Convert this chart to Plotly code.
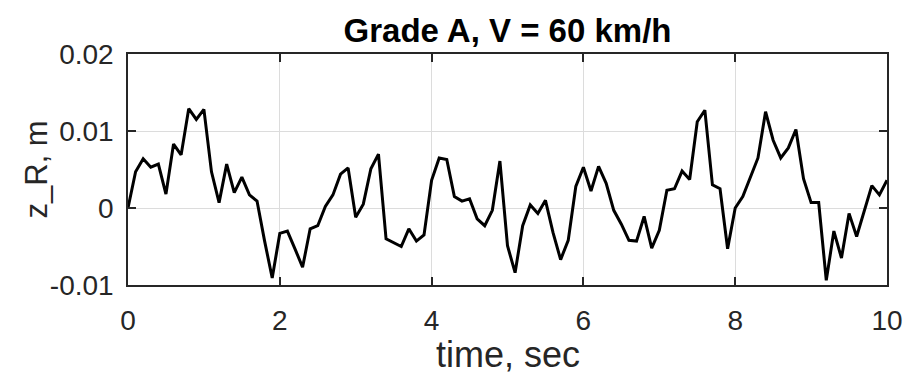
import plotly.graph_objects as go

time_s = [round(i * 0.1, 1) for i in range(101)]
z_R = [
    0.0000, 0.0047, 0.0064, 0.0053, 0.0057, 0.0018, 0.0083, 0.0069, 0.0129, 0.0115,
    0.0128, 0.0047, 0.0007, 0.0057, 0.0020, 0.0040, 0.0017, 0.0009, -0.0043, -0.0091,
    -0.0033, -0.0030, -0.0053, -0.0077, -0.0027, -0.0023, 0.0002, 0.0017, 0.0044, 0.0052,
    -0.0012, 0.0005, 0.0051, 0.0070, -0.0040, -0.0045, -0.0050, -0.0027, -0.0043, -0.0035,
    0.0036, 0.0065, 0.0063, 0.0015, 0.0009, 0.0012, -0.0014, -0.0023, -0.0003, 0.0061,
    -0.0049, -0.0084, -0.0023, 0.0004, -0.0007, 0.0010, -0.0032, -0.0067, -0.0042, 0.0028,
    0.0053, 0.0022, 0.0054, 0.0032, -0.0003, -0.0021, -0.0042, -0.0043, -0.0011, -0.0052,
    -0.0029, 0.0023, 0.0025, 0.0048, 0.0037, 0.0112, 0.0127, 0.0030, 0.0025, -0.0053,
    0.0000, 0.0015, 0.0040, 0.0065, 0.0125, 0.0088, 0.0065, 0.0078, 0.0102, 0.0038,
    0.0007, 0.0007, -0.0094, -0.0030, -0.0065, -0.0007, -0.0037, -0.0004, 0.0029, 0.0017,
    0.0036,
]
x_ticks = [0, 2, 4, 6, 8, 10]
x_tick_labels = ["0", "2", "4", "6", "8", "10"]
y_ticks = [-0.01, 0, 0.01, 0.02]
y_tick_labels = ["-0.01", "0", "0.01", "0.02"]
title_text = "<b>Grade A, V = 60 km/h</b>"
x_title = "time, sec"
y_title = "z_R, m"

font_family = "Liberation Sans, Arial, sans-serif"
axis_color = "#262626"
grid_color = "#dcdcdc"

fig = go.Figure()
fig.add_trace(go.Scatter(x=time_s, y=z_R, mode="lines",
                         line=dict(color="black", width=3), hoverinfo="skip"))

common = dict(showline=True, linecolor=axis_color, linewidth=1.5, mirror="ticks",
              ticks="inside", ticklen=8, tickwidth=1.5, tickcolor=axis_color,
              showgrid=True, gridcolor=grid_color, gridwidth=1, zeroline=False,
              automargin=False, ticklabeloverflow="allow",
              tickfont=dict(family=font_family, size=28, color=axis_color))

fig.update_layout(
    width=905, height=376,
    margin=dict(l=128, r=18, t=54, b=91),
    paper_bgcolor="white", plot_bgcolor="white",
    showlegend=False,
    title=dict(text=title_text, x=0.5608, xanchor="center",
               yref="container", y=0.920, yanchor="middle",
               font=dict(family=font_family, size=33, color="black")),
    xaxis=dict(range=[0, 10], tickvals=x_ticks, ticktext=x_tick_labels,
               ticklabelstandoff=10, **common),
    yaxis=dict(range=[-0.01, 0.02], tickvals=y_ticks, ticktext=y_tick_labels,
               ticklabelstandoff=7, **common),
    annotations=[
        dict(text=x_title, xref="paper", yref="paper", x=0.5, y=0,
             xanchor="center", yanchor="middle", yshift=-69, showarrow=False,
             font=dict(family=font_family, size=36, color=axis_color)),
        dict(text=y_title, xref="paper", yref="paper", x=0, y=0.5,
             xanchor="center", yanchor="middle", xshift=-92, textangle=-90,
             showarrow=False,
             font=dict(family=font_family, size=31, color=axis_color)),
    ],
)

fig.write_html(
    "out.html",
    config={"displayModeBar": False},
    post_script="document.body.style.margin='0';document.body.style.overflow='hidden';",
)
